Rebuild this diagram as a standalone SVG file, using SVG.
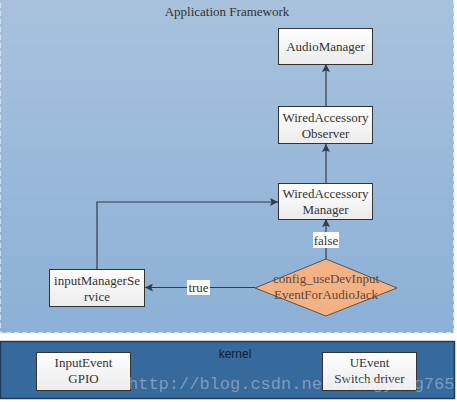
<svg xmlns="http://www.w3.org/2000/svg" width="457" height="402" viewBox="0 0 457 402">
<defs>
<linearGradient id="bg" x1="0" y1="0" x2="0" y2="1">
<stop offset="0" stop-color="#a8c2dd"/>
<stop offset="1" stop-color="#8cb0d6"/>
</linearGradient>
<linearGradient id="box" x1="0" y1="0" x2="0" y2="1">
<stop offset="0" stop-color="#ffffff"/>
<stop offset="1" stop-color="#ebebeb"/>
</linearGradient>
<marker id="arr" viewBox="0 0 10 10" refX="10" refY="5" markerWidth="8" markerHeight="8" markerUnits="userSpaceOnUse" orient="auto">
<path d="M0,0 L10,5 L0,10 L2,5 z" fill="#333d4a"/>
</marker>
<style>
.box{fill:url(#box);stroke:#333;stroke-width:1}
.t{font-family:"Liberation Serif","Times New Roman",serif;font-size:13px;fill:#333;text-anchor:middle}
.ln{fill:none;stroke:#333d4a;stroke-width:1.2;marker-end:url(#arr)}
.lbl{fill:#fff}
</style>
</defs>
<rect x="0" y="0" width="457" height="402" fill="#fff"/>
<rect x="0" y="-2" width="454" height="335" fill="url(#bg)" stroke="#e4ebf3" stroke-width="1.5" stroke-dasharray="5,3"/>
<text x="227" y="16" class="t" fill="#222">Application Framework</text>
<rect x="0.5" y="341.5" width="454" height="57" fill="#36699c" stroke="#1e3d5c" stroke-width="1.5"/>
<text x="235" y="358" style="font-family:'Liberation Sans',Arial,sans-serif;font-size:12px;fill:#0d1f33;text-anchor:middle">kernel</text>

<g id="connectors">
<line class="ln" x1="326" y1="107" x2="326" y2="64"/>
<line class="ln" x1="326" y1="183" x2="326" y2="144"/>
<line class="ln" x1="326" y1="259" x2="326" y2="219"/>
<polyline class="ln" points="97,269 97,202 278,202"/>
<line class="ln" x1="255" y1="287.5" x2="145" y2="287.5"/>
<rect class="lbl" x="313" y="232" width="26" height="16"/>
<text x="326" y="245" class="t">false</text>
<rect class="lbl" x="187" y="280" width="23" height="15"/>
<text x="198.5" y="292" class="t">true</text>
</g>

<g id="audioManager">
<rect class="box" x="278.5" y="28.5" width="94" height="36"/>
<text x="325.5" y="51" class="t">AudioManager</text>
</g>
<g id="wiredAccessoryObserver">
<rect class="box" x="278.5" y="106.5" width="94" height="37"/>
<text x="325.5" y="122" class="t">WiredAccessory</text>
<text x="325.5" y="138" class="t">Observer</text>
</g>
<g id="wiredAccessoryManager">
<rect class="box" x="278.5" y="183.5" width="94" height="36"/>
<text x="325.5" y="198" class="t">WiredAccessory</text>
<text x="325.5" y="214" class="t">Manager</text>
</g>
<g id="inputManagerService">
<rect class="box" x="49.5" y="269.5" width="95" height="37"/>
<text x="97" y="285" class="t">inputManagerSe</text>
<text x="97" y="301" class="t">rvice</text>
</g>
<g id="decision">
<polygon points="326,259 397,288 326,316 255,288" fill="#f4b183" stroke="#555" stroke-width="1"/>
<text x="326" y="283" class="t" fill="#555" style="fill:#5a4a3f">config_useDevInput</text>
<text x="326" y="299" class="t" style="fill:#5a4a3f">EventForAudioJack</text>
</g>
<g id="inputEventGPIO">
<rect class="box" x="36.5" y="352.5" width="94" height="38" stroke="#222"/>
<text x="83.5" y="367" class="t">InputEvent</text>
<text x="83.5" y="383" class="t">GPIO</text>
</g>
<g id="uevent">
<rect class="box" x="322.5" y="352.5" width="94" height="38"/>
<text x="369.5" y="367" class="t">UEvent</text>
<text x="369.5" y="383" class="t">Switch driver</text>
</g>
<text x="128" y="389" style="font-family:'Liberation Mono','Courier New',monospace;font-size:17px;fill:#ffffff;fill-opacity:0.35">http://blog.csdn.net/fengying765</text>
</svg>
